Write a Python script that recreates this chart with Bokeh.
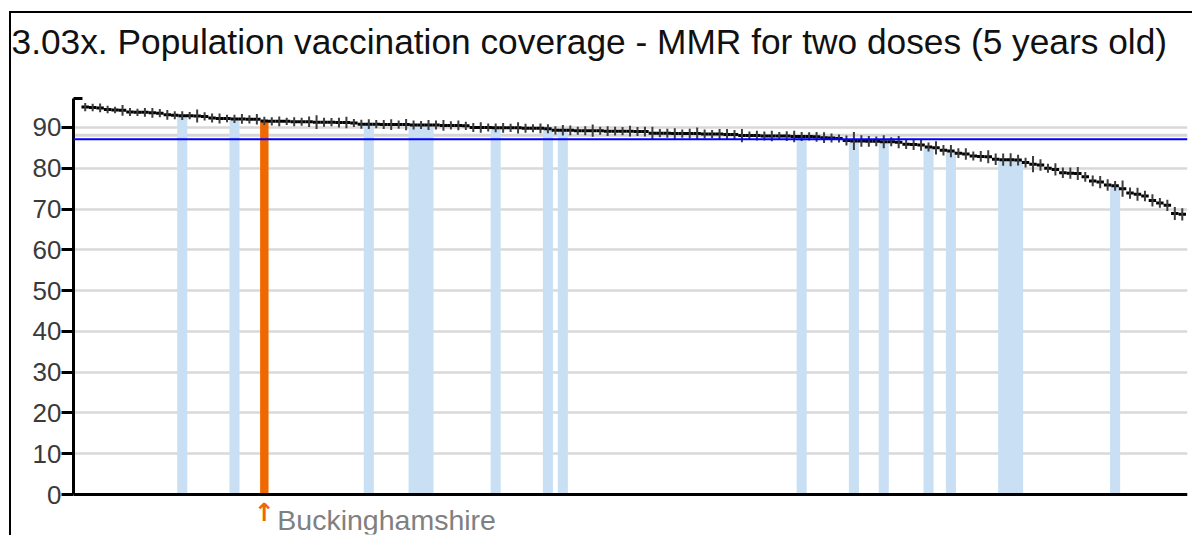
from bokeh.plotting import figure
from bokeh.layouts import column
from bokeh.models import Range1d, FixedTicker, Span, Title
from bokeh.core.properties import value
from bokeh.embed import file_html
from bokeh.resources import INLINE

# ---------------- data ----------------
chart_title = "3.03x. Population vaccination coverage - MMR for two doses (5 years old)"

# coverage (%) for each area, sorted high -> low
values = [
    95.0, 94.9, 94.8, 94.4, 94.3, 94.2, 93.8, 93.7, 93.7, 93.6,
    93.5, 93.1, 93.0, 92.9, 92.9, 92.8, 92.7, 92.3, 92.2, 92.2,
    92.1, 92.1, 92.0, 92.0, 91.6, 91.5, 91.5, 91.5, 91.4, 91.4,
    91.4, 91.3, 91.3, 91.3, 91.2, 91.2, 91.1, 90.8, 90.8, 90.8,
    90.7, 90.7, 90.7, 90.7, 90.6, 90.6, 90.6, 90.6, 90.5, 90.5,
    90.5, 90.4, 90.0, 90.0, 90.0, 89.9, 89.9, 89.9, 89.9, 89.8,
    89.8, 89.8, 89.7, 89.3, 89.3, 89.3, 89.2, 89.2, 89.2, 89.2,
    89.1, 89.1, 89.1, 89.1, 89.0, 89.0, 88.6, 88.6, 88.6, 88.5,
    88.5, 88.5, 88.5, 88.4, 88.4, 88.4, 88.3, 88.3, 88.0, 88.0,
    88.0, 87.9, 87.9, 87.9, 87.9, 87.8, 87.8, 87.8, 87.7, 87.5,
    87.4, 87.3, 86.8, 86.7, 86.7, 86.6, 86.6, 86.5, 86.5, 86.4,
    85.9, 85.8, 85.7, 85.2, 85.0, 84.4, 84.2, 83.7, 83.5, 83.0,
    82.9, 82.8, 82.2, 82.1, 82.1, 82.0, 81.4, 81.0, 80.8, 80.0,
    79.7, 78.9, 78.8, 78.7, 77.9, 76.9, 76.6, 75.9, 75.7, 75.0,
    73.9, 73.6, 73.2, 72.1, 71.5, 70.9, 68.9, 68.7,
]

# half-width of the 95% confidence interval for each area
ci_half = [
    1.0, 0.9, 1.1, 0.9, 0.8, 1.3, 1.0, 0.9, 1.1, 1.2, 1.0, 1.2, 1.0, 1.1, 0.9, 1.6, 1.0, 1.1, 1.2, 0.9, 1.0, 1.2, 1.0, 1.3, 1.0,
    1.0, 1.2, 0.9, 1.1, 1.0, 1.3, 1.7, 1.1, 1.0, 1.2, 1.4, 1.0, 1.1, 1.2, 1.0, 1.1, 1.3, 1.0, 1.4, 1.1, 1.0, 1.2, 1.1, 1.3, 1.0,
    1.2, 1.0, 1.1, 1.3, 1.0, 1.1, 1.2, 1.0, 1.4, 1.1, 1.0, 1.2, 1.1, 1.0, 1.3, 1.2, 1.0, 1.1, 1.5, 1.0, 1.2, 1.1, 1.0, 1.3, 1.1,
    1.2, 1.6, 1.0, 1.1, 1.3, 1.0, 1.2, 1.5, 1.1, 1.0, 1.2, 1.3, 1.1, 1.6, 1.0, 1.2, 1.1, 1.3, 1.0, 1.2, 1.4, 1.1, 1.0, 1.2, 1.3,
    1.1, 1.0, 1.2, 2.2, 1.4, 1.3, 1.2, 1.6, 1.1, 1.5, 1.2, 1.3, 1.4, 1.1, 1.6, 1.3, 1.5, 1.2, 1.4, 1.1, 1.3, 1.6, 1.4, 1.5, 1.6,
    1.3, 1.2, 2.0, 1.4, 1.1, 1.5, 1.3, 1.4, 1.6, 1.2, 1.3, 1.5, 1.4, 1.2, 2.0, 1.4, 1.6, 1.3, 1.5, 1.2, 1.4, 1.6, 1.5,
]

# positions (rank) of the other areas in the same region
region_areas = [13, 20, 38, 44, 45, 46, 55, 62, 64, 96, 103, 107, 113, 116, 123, 124, 125, 138]
# selected area
selected_area = 24
selected_name = "Buckinghamshire"

england_value = 87.1
region_value = 88.1
y_ticks = [0, 10, 20, 30, 40, 50, 60, 70, 80, 90]
y_max = 97.1
y_min = -9.8   # room below the axis for the area label

assert len(values) == len(ci_half)

# ---------------- figure ----------------
n = len(values)
idx = list(range(n))

p = figure(
    width=1181, height=522,
    output_backend="svg", toolbar_location=None,
    x_range=Range1d(-1.57, n - 0.3),
    y_range=Range1d(y_min, y_max),
    min_border_left=62, min_border_right=5, min_border_top=84, min_border_bottom=1,
    title=None,
)
p.outline_line_color = None
p.background_fill_color = "white"
p.border_fill_color = "white"

# spacer (nearest the frame) then the real title above it
p.add_layout(Title(text=" ", text_font_size="10px", standoff=15), "above")
p.add_layout(Title(text=chart_title, text_font="Liberation Sans", text_font_size="35.3px",
                   text_font_style="normal", text_color="#111111", align="left",
                   vertical_align="top", offset=-62, standoff=16), "above")

# y axis
p.yaxis.ticker = FixedTicker(ticks=y_ticks, minor_ticks=[97.0])
p.yaxis.bounds = (0, y_max)
p.yaxis.axis_line_width = 3
p.yaxis.axis_line_color = "black"
p.yaxis.major_tick_out = 12
p.yaxis.major_tick_in = 0
p.yaxis.major_tick_line_width = 3
p.yaxis.major_tick_line_color = "black"
p.yaxis.minor_tick_in = 9
p.yaxis.minor_tick_out = 0
p.yaxis.minor_tick_line_width = 3
p.yaxis.minor_tick_line_color = "black"
p.yaxis.major_label_text_font = "Liberation Sans"
p.yaxis.major_label_text_font_size = "26px"
p.yaxis.major_label_text_color = "#3a3a3a"
p.yaxis.major_label_standoff = 0

# x axis: line only, sitting at y = 0
p.xaxis.fixed_location = 0
p.xaxis.ticker = FixedTicker(ticks=[])
p.xaxis.axis_line_width = 3
p.xaxis.axis_line_color = "black"
p.xaxis.major_tick_line_color = None
p.xaxis.minor_tick_line_color = None

p.xgrid.visible = False
p.ygrid.grid_line_color = "#d9d9d9"
p.ygrid.grid_line_width = 2.5

# region benchmark line
p.add_layout(Span(location=region_value, dimension="width", line_color="#d6d6d6",
                  line_width=3, level="underlay"))

# bars for areas in the same region
p.vbar(x=region_areas, top=[values[i] for i in region_areas], bottom=0, width=1.35,
       fill_color="#c9e0f4", line_color=None)
# selected area
p.vbar(x=[selected_area], top=[values[selected_area]], bottom=0, width=1.13,
       fill_color="#f06800", line_color=None)

# value markers (horizontal) and confidence intervals (vertical)
p.segment(x0=[i - 0.5 for i in idx], x1=[i + 0.5 for i in idx], y0=values, y1=values,
          line_color="black", line_width=3)
p.segment(x0=idx, x1=idx, y0=[v - c for v, c in zip(values, ci_half)],
          y1=[v + c for v, c in zip(values, ci_half)], line_color="#3d3d3d", line_width=2)

# England benchmark
p.add_layout(Span(location=england_value, dimension="width", line_color="#0000ff", line_width=2))

# annotation of selected area
p.text(x=[selected_area], y=[0], text=["\u2191"], text_color="#f06800",
       text_font=value("DejaVu Sans"), text_font_size="25px", text_font_style="bold",
       text_align="center", text_baseline="alphabetic", y_offset=18)
p.text(x=[selected_area], y=[0], text=[selected_name], text_color="#808080",
       text_font=value("Liberation Sans"), text_font_size="28.5px",
       text_align="left", text_baseline="alphabetic", x_offset=13, y_offset=25)

layout = column(p)
layout.margin = (11, 0, 0, 9)
layout.styles = {"border-top": "2px solid black", "border-left": "2px solid black"}

open("out.html", "w").write(file_html(layout, INLINE))
